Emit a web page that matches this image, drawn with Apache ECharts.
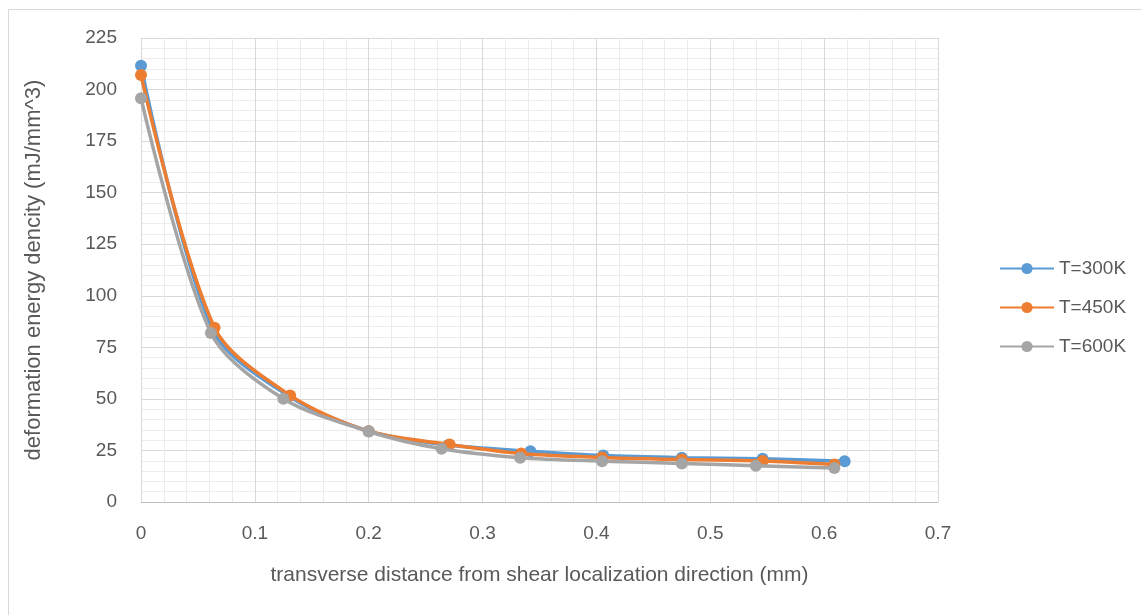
<!DOCTYPE html>
<html>
<head>
<meta charset="utf-8">
<script src="https://cdn.jsdelivr.net/npm/echarts@6/dist/echarts.min.js"></script>
<style>
  html, body { margin: 0; padding: 0; background: #ffffff; }
  #chart { width: 1142px; height: 615px; }
</style>
</head>
<body>
<div id="chart"></div>
<script>
// Distance from the shear band (mm) and deformation energy density (mJ/mm^3)
const seriesNames = ['T=300K', 'T=450K', 'T=600K'];
const seriesColors = ['#5B9BD5', '#ED7D31', '#A5A5A5'];

const x300 = [0, 0.063, 0.130, 0.200, 0.270, 0.342, 0.406, 0.475, 0.546, 0.618];
const y300 = [211.5, 83.5, 51.3, 34.3, 27.6, 24.6, 22.5, 21.5, 21.0, 19.8];

const x450 = [0, 0.0646, 0.131, 0.200, 0.271, 0.334, 0.405, 0.475, 0.546, 0.609];
const y450 = [207.1, 84.5, 51.7, 34.3, 27.9, 23.5, 21.6, 20.6, 19.9, 18.2];

const x600 = [0, 0.0614, 0.125, 0.200, 0.264, 0.333, 0.405, 0.475, 0.540, 0.609];
const y600 = [195.8, 82.0, 50.1, 34.2, 25.8, 21.5, 19.8, 18.7, 17.6, 16.5];

const xTicks = { min: 0, max: 0.7, interval: 0.1 };
const yTicks = { min: 0, max: 225, interval: 25 };

const xs = [x300, x450, x600];
const ys = [y300, y450, y600];

const textColor = '#595959';
const fontFamily = 'Liberation Sans, Arial, sans-serif';

const chart = echarts.init(document.getElementById('chart'), null, { renderer: 'canvas' });

const series = seriesNames.map((name, i) => ({
  name: name,
  type: 'line',
  smooth: 0.3,
  data: xs[i].map((x, k) => [x, ys[i][k]]),
  symbol: 'circle',
  symbolSize: 12,
  showSymbol: true,
  lineStyle: { width: 3.5, color: seriesColors[i] },
  itemStyle: { color: seriesColors[i] },
  emphasis: { disabled: true },
  z: 2 + i
}));

chart.setOption({
  animation: false,
  backgroundColor: '#ffffff',
  textStyle: { fontFamily: fontFamily },
  graphic: [{
    type: 'rect',
    shape: { x: 8.5, y: 9.5, width: 1140, height: 620 },
    style: { fill: 'none', stroke: '#d9d9d9', lineWidth: 1 },
    silent: true,
    z: -10
  }],
  grid: {
    left: 141,
    top: 38,
    right: 204,
    bottom: 113,
    containLabel: false
  },
  legend: {
    orient: 'vertical',
    left: 994,
    top: 254,
    itemWidth: 54,
    itemHeight: 14,
    itemGap: 20,
    data: seriesNames,
    textStyle: { color: textColor, fontSize: 19, fontFamily: fontFamily }
  },
  xAxis: {
    type: 'value',
    min: xTicks.min,
    max: xTicks.max,
    interval: xTicks.interval,
    name: 'transverse distance from shear localization direction (mm)',
    nameLocation: 'middle',
    nameGap: 63,
    nameTextStyle: { color: textColor, fontSize: 21, fontFamily: fontFamily },
    axisLine: { show: true, onZero: false, lineStyle: { color: '#bfbfbf', width: 1 } },
    axisTick: { show: false },
    minorTick: { show: false, splitNumber: 5 },
    axisLabel: {
      color: textColor, fontSize: 19, margin: 22,
      formatter: v => String(Math.round(v * 10) / 10)
    },
    splitLine: { show: true, lineStyle: { color: '#d9d9d9', width: 1 } },
    minorSplitLine: { show: true, lineStyle: { color: '#ececec', width: 1 } }
  },
  yAxis: {
    type: 'value',
    min: yTicks.min,
    max: yTicks.max,
    interval: yTicks.interval,
    name: 'deformation energy dencity (mJ/mm^3)',
    nameLocation: 'middle',
    nameGap: 96,
    nameTextStyle: { color: textColor, fontSize: 22, fontFamily: fontFamily },
    axisLine: { show: false },
    axisTick: { show: false },
    minorTick: { show: false, splitNumber: 5 },
    axisLabel: { color: textColor, fontSize: 19, margin: 24 },
    splitLine: { show: true, lineStyle: { color: '#d9d9d9', width: 1 } },
    minorSplitLine: { show: true, lineStyle: { color: '#ececec', width: 1 } }
  },
  series: series
});
</script>
</body>
</html>
